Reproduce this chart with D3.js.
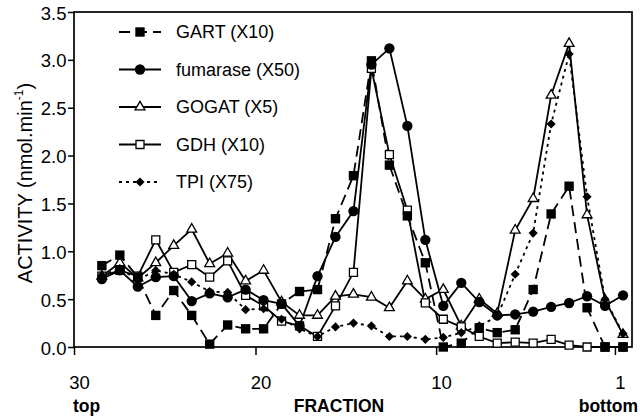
<!DOCTYPE html>
<html>
<head>
<meta charset="utf-8">
<script src="https://cdn.jsdelivr.net/npm/d3@7"></script>
<style>
  html, body { margin: 0; padding: 0; background: #fff; }
  svg { display: block; font-family: "Liberation Sans", Arial, Helvetica, sans-serif; }
</style>
</head>
<body>
<svg id="chart" width="640" height="418"></svg>
<script>
// Gradient fractions, top (30) to bottom (1)
const fractions = d3.range(30, 0, -1);

// Enzyme activities per fraction (nmol.min-1, scaled as in the legend)
const gart     = [0.85, 0.96, 0.73, 0.33, 0.59, 0.33, 0.03, 0.23, 0.19, 0.19, 0.45, 0.58, 0.60, 1.34, 1.79, 2.99, 1.90, 1.37, 0.88, 0.00, 0.04, 0.20, 0.15, 0.18, 0.60, 1.39, 1.68, 0.41, 0.00, 0.00];
const fumarase = [0.71, 0.80, 0.63, 0.73, 0.74, 0.48, 0.56, 0.52, 0.60, 0.49, 0.45, 0.22, 0.74, 1.15, 1.42, 2.95, 3.12, 2.31, 1.12, 0.43, 0.67, 0.47, 0.33, 0.34, 0.37, 0.42, 0.46, 0.53, 0.43, 0.54];
const gogat    = [0.74, 0.88, 0.72, 0.88, 1.06, 1.23, 0.87, 0.98, 0.69, 0.80, 0.47, 0.33, 0.33, 0.53, 0.55, 0.52, 0.41, 0.69, 0.50, 0.60, 0.22, 0.50, 0.35, 1.22, 1.55, 2.63, 3.17, 1.38, 0.49, 0.13];
const gdh      = [0.74, 0.80, 0.74, 1.12, 0.78, 0.86, 0.73, 0.90, 0.54, 0.43, 0.27, 0.22, 0.11, 0.43, 0.78, 2.91, 2.01, 1.43, 0.46, 0.29, 0.21, 0.11, 0.04, 0.05, 0.04, 0.08, 0.02, 0.00, 0.00, 0.00];
const tpi      = [0.75, 0.82, 0.70, 0.80, 0.76, 0.68, 0.58, 0.57, 0.39, 0.40, 0.29, 0.19, 0.11, 0.21, 0.25, 0.22, 0.11, 0.11, 0.08, 0.10, 0.15, 0.22, 0.32, 0.76, 1.19, 2.33, 3.06, 1.57, 0.50, 0.14];

const seriesLabels = ["GART (X10)", "fumarase (X50)", "GOGAT (X5)", "GDH (X10)", "TPI (X75)"];

// Axis ticks
const xTickLabels = ["30", "20", "10", "1"];
const xTickAt = [31.55, 21.45, 11.4, 1.45];
const yTicks = [0, 0.5, 1.0, 1.5, 2.0, 2.5, 3.0, 3.5];

// ---- drawing ----
const svg = d3.select("#chart");
const plot = { left: 74, right: 632, top: 12, bottom: 347 };

const x = d3.scaleLinear().domain([31.55, 0.5]).range([plot.left, plot.right]);
const y = d3.scaleLinear().domain([0, 3.5]).range([plot.bottom, plot.top]);

// Marker shapes
const markers = {
  squareFilled: { path: d3.symbol(d3.symbolSquare, 88)(), fill: "#000", stroke: "none", rot: 0 },
  circle:       { path: d3.symbol(d3.symbolCircle, 84)(), fill: "#000", stroke: "none", rot: 0 },
  triangleOpen: { path: d3.symbol(d3.symbolTriangle, 42)(), fill: "#fff", stroke: "#000", rot: 0 },
  squareOpen:   { path: d3.symbol(d3.symbolSquare, 64)(), fill: "#fff", stroke: "#000", rot: 0 },
  diamond:      { path: d3.symbol(d3.symbolSquare, 42)(), fill: "#000", stroke: "none", rot: 45 }
};

// Series: values + drawing style
const series = [
  { label: seriesLabels[0], values: gart,     dash: "11,6", marker: "squareFilled" },
  { label: seriesLabels[1], values: fumarase, dash: null,   marker: "circle" },
  { label: seriesLabels[2], values: gogat,    dash: null,   marker: "triangleOpen" },
  { label: seriesLabels[3], values: gdh,      dash: null,   marker: "squareOpen" },
  { label: seriesLabels[4], values: tpi,      dash: "3,4",  marker: "diamond" }
];
// drawing order so the filled markers sit on top
const drawOrder = [2, 3, 4, 1, 0];

// Axes
const xAxis = d3.axisBottom(x)
  .tickValues(xTickAt)
  .tickFormat((d, i) => xTickLabels[i])
  .tickSizeInner(8).tickSizeOuter(0).tickPadding(21);
const gx = svg.append("g").attr("transform", `translate(0,${plot.bottom})`).call(xAxis);
gx.select(".domain").remove();
gx.selectAll(".tick line").attr("stroke", "#000").attr("stroke-width", 1.5);
gx.selectAll(".tick text").attr("fill", "#000").attr("font-size", 18.5).attr("dx", 5);

const yAxis = d3.axisLeft(y)
  .tickValues(yTicks)
  .tickFormat(d3.format(".1f"))
  .tickSizeInner(6).tickSizeOuter(0).tickPadding(1.5);
const gy = svg.append("g").attr("transform", `translate(${plot.left},0)`).call(yAxis);
gy.select(".domain").remove();
gy.selectAll(".tick line").attr("stroke", "#000").attr("stroke-width", 1.5);
gy.selectAll(".tick text").attr("fill", "#000").attr("font-size", 18.5).attr("dy", "0.38em");

// Frame
svg.append("rect")
  .attr("x", plot.left).attr("y", plot.top)
  .attr("width", plot.right - plot.left).attr("height", plot.bottom - plot.top)
  .attr("fill", "none").attr("stroke", "#000").attr("stroke-width", 1.7);

// Lines and markers
const line = d3.line().x((d, i) => x(fractions[i])).y(d => y(d));
const gData = svg.append("g");
drawOrder.forEach(si => {
  const s = series[si];
  gData.append("path")
    .datum(s.values)
    .attr("d", line)
    .attr("fill", "none")
    .attr("stroke", "#000")
    .attr("stroke-width", 1.8)
    .attr("stroke-dasharray", s.dash);
});
drawOrder.forEach(si => {
  const s = series[si];
  const m = markers[s.marker];
  gData.append("g").selectAll("path")
    .data(s.values)
    .join("path")
    .attr("d", m.path)
    .attr("transform", (d, i) => `translate(${x(fractions[i])},${y(d)}) rotate(${m.rot})`)
    .attr("fill", m.fill)
    .attr("stroke", m.stroke)
    .attr("stroke-width", 1.3);
});

// Legend
const legend = svg.append("g");
series.forEach((s, i) => {
  const ly = 32 + i * 37.5;
  const m = markers[s.marker];
  legend.append("line")
    .attr("x1", 119).attr("x2", 161).attr("y1", ly).attr("y2", ly)
    .attr("stroke", "#000").attr("stroke-width", 1.8)
    .attr("stroke-dasharray", s.dash);
  legend.append("path")
    .attr("d", m.path)
    .attr("transform", `translate(140,${ly}) rotate(${m.rot})`)
    .attr("fill", m.fill).attr("stroke", m.stroke).attr("stroke-width", 1.3);
  legend.append("text")
    .attr("x", 176).attr("y", ly).attr("dy", "0.36em")
    .attr("font-size", 18).attr("fill", "#000")
    .text(s.label);
});

// Axis titles
const yTitle = svg.append("text")
  .attr("transform", "translate(32,183) rotate(-90)")
  .attr("text-anchor", "middle")
  .attr("font-size", 20).attr("fill", "#000");
yTitle.append("tspan").text("ACTIVITY (nmol.min");
yTitle.append("tspan").attr("font-size", 12).attr("dy", -9).text("-1");
yTitle.append("tspan").attr("dy", 9).text(")");

svg.append("text").attr("x", 339).attr("y", 412)
  .attr("text-anchor", "middle").attr("font-weight", "bold").attr("font-size", 17.5)
  .text("FRACTION");
svg.append("text").attr("x", 73).attr("y", 412)
  .attr("font-weight", "bold").attr("font-size", 17.5)
  .text("top");
svg.append("text").attr("x", 638).attr("y", 412)
  .attr("text-anchor", "end").attr("font-weight", "bold").attr("font-size", 17.5)
  .text("bottom");
</script>
</body>
</html>
